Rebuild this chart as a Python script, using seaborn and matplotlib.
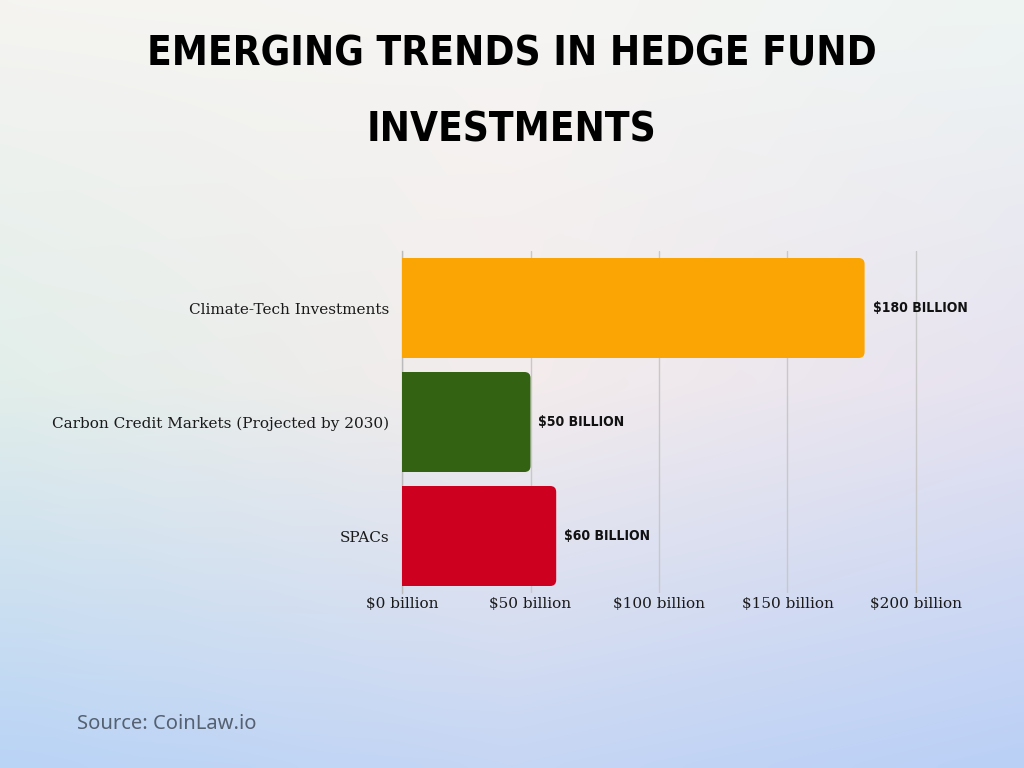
import numpy as np
import pandas as pd
import matplotlib
matplotlib.use("Agg")
import matplotlib.pyplot as plt
import seaborn as sns
from matplotlib.patches import FancyBboxPatch

categories = ["Climate-Tech Investments", "Carbon Credit Markets (Projected by 2030)", "SPACs"]
values = [180, 50, 60]
value_labels = ["$180 BILLION", "$50 BILLION", "$60 BILLION"]
colors = ["#FAA504", "#326212", "#CD001F"]
xticks = [0, 50, 100, 150, 200]
xtick_labels = ["$0 billion", "$50 billion", "$100 billion", "$150 billion", "$200 billion"]
title_lines = ["EMERGING TRENDS IN HEDGE FUND", "INVESTMENTS"]
source = "Source: CoinLaw.io"

sns.set_theme(style="white")
plt.rcParams["font.family"] = ["DejaVu Serif"]

fig = plt.figure(figsize=(10.24, 7.68), dpi=100)

# background gradient
bg = fig.add_axes([0, 0, 1, 1], zorder=-10)
anchors = np.array([
    [[245, 244, 241], [246, 245, 243], [238, 245, 243]],
    [[226, 238, 234], [244, 236, 236], [230, 226, 240]],
    [[186, 212, 246], [198, 214, 244], [186, 208, 246]],
], dtype=float) / 255.0
H, W = 96, 128
yy = np.linspace(0, 2, H)[:, None]
xx = np.linspace(0, 2, W)[None, :]
img = np.zeros((H, W, 3))
for c in range(3):
    a = anchors[:, :, c]
    yi = np.clip(np.floor(yy).astype(int), 0, 1)
    xi = np.clip(np.floor(xx).astype(int), 0, 1)
    fy = yy - yi
    fx = xx - xi
    v00 = a[yi, xi]; v01 = a[yi, xi + 1]; v10 = a[yi + 1, xi]; v11 = a[yi + 1, xi + 1]
    img[:, :, c] = (v00 * (1 - fx) * (1 - fy) + v01 * fx * (1 - fy) + v10 * (1 - fx) * fy + v11 * fx * fy)
bg.imshow(img, aspect="auto", extent=[0, 1, 0, 1], interpolation="bicubic")
bg.axis("off")

px_x = 514 / 200.0
ax_w = 524
ax = fig.add_axes([402 / 1024, (768 - 593) / 768, ax_w / 1024, 342 / 768])
ax.patch.set_alpha(0)

df = pd.DataFrame({"category": categories, "value": values})
sns.barplot(data=df, x="value", y="category", hue="category", palette=colors,
            saturation=1, width=100 / 114, legend=False, ax=ax, zorder=3)

ax.set_xlim(0, ax_w / px_x)
ax.set_ylim(2.5, -0.5)

# replace bars with rounded ones (right end rounded)
px_y = 114.0
r = 6.0
for p in list(ax.patches):
    x0, y0 = p.get_x(), p.get_y()
    w, h = p.get_width(), p.get_height()
    fc = p.get_facecolor()
    p.remove()
    rb = FancyBboxPatch((x0 - 10, y0), w + 10, h,
                        boxstyle=f"round,pad=0,rounding_size={r / px_x}",
                        mutation_aspect=(r / px_y) / (r / px_x),
                        facecolor=fc, edgecolor="none", zorder=3, clip_on=True)
    ax.add_patch(rb)

for i, (v, lab) in enumerate(zip(values, value_labels)):
    ax.text(v + 8 / px_x, i, lab, va="center", ha="left",
            fontsize=10, fontweight="bold", color="#111111",
            family=["Liberation Sans Narrow", "DejaVu Sans"], stretch="condensed", zorder=5)

ax.set_xticks(xticks)
ax.set_xticklabels(xtick_labels, fontsize=11, color="#1a1a1a")
ax.set_yticks(range(len(categories)))
ax.set_yticklabels(categories, fontsize=11, color="#1a1a1a")
ax.tick_params(axis="x", length=0, pad=3)
ax.tick_params(axis="y", length=0, pad=9)
ax.set_xlabel("")
ax.set_ylabel("")
ax.xaxis.grid(True, color="#c8c8c8", linewidth=1)
ax.yaxis.grid(False)
ax.set_axisbelow(True)
for s in ["top", "right", "bottom"]:
    ax.spines[s].set_visible(False)
ax.spines["left"].set_color("#bbbbbb")
ax.spines["left"].set_linewidth(1)

for ypix, line in zip([54, 130], title_lines):
    fig.text(0.5, 1 - ypix / 768, line, ha="center", va="center", fontsize=29,
             fontweight="bold", color="black",
             family=["Liberation Sans Narrow", "DejaVu Sans"], stretch="condensed")

fig.text(77 / 1024, 1 - 724 / 768, source, ha="left", va="center", fontsize=14.5,
         color="#556070", family=["Noto Sans", "DejaVu Sans"])

fig.savefig("out.png", dpi=100)
